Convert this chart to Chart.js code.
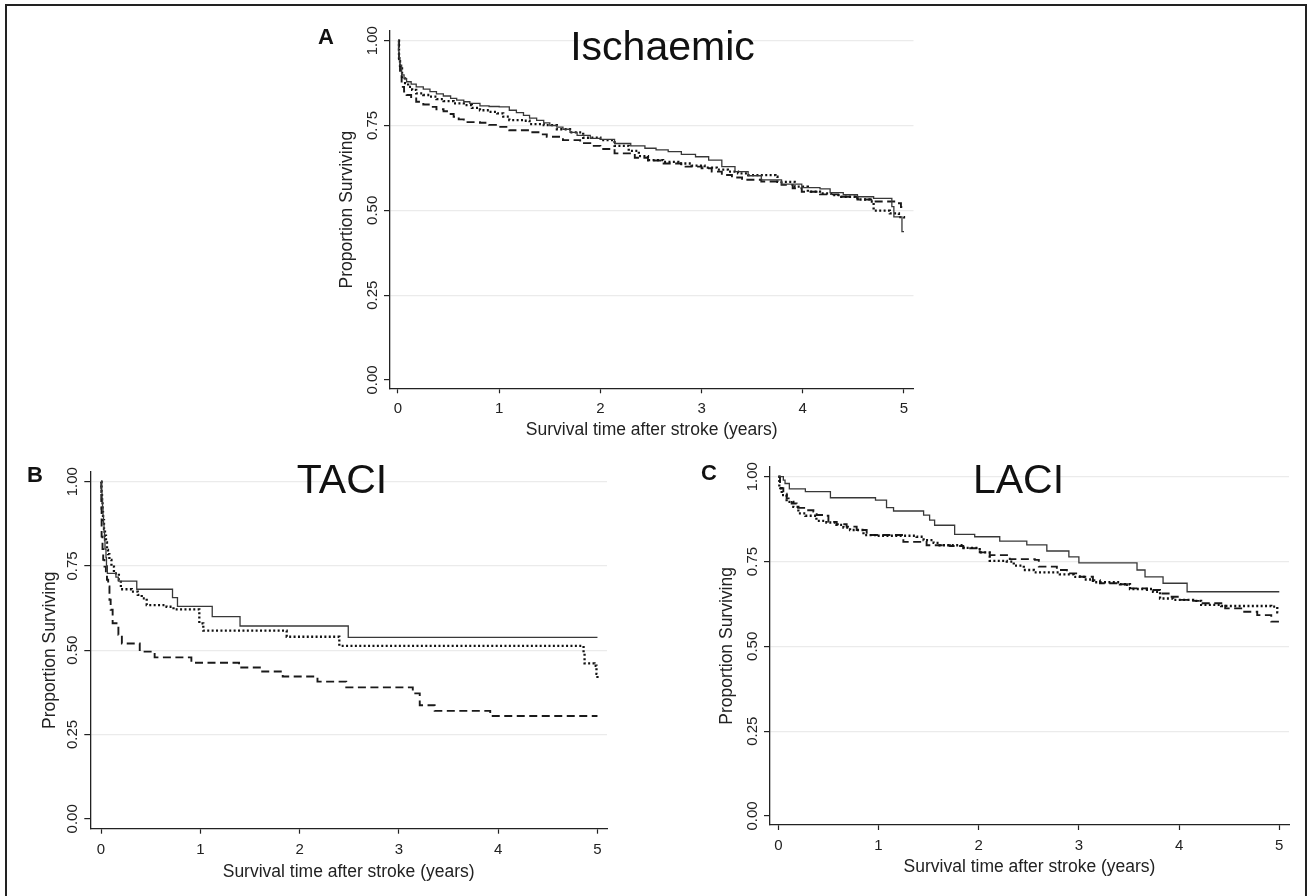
<!DOCTYPE html>
<html>
<head>
<meta charset="utf-8">
<script src="https://cdn.jsdelivr.net/npm/chart.js@4.4.1/dist/chart.umd.min.js"></script>
<style>
  html, body { margin: 0; padding: 0; background: #fff; width: 1308px; height: 896px; overflow: hidden; }
  #frame { position: absolute; left: 5px; top: 4px; width: 1302px; height: 900px; box-sizing: border-box;
           border-top: 2px solid #222; border-left: 2px solid #222; border-right: 2px solid #222; }
  .panel { position: absolute; }
</style>
</head>
<body>
<div id="frame"></div>
<div class="panel" style="left:310px;top:10px;width:620px;height:445px;"><canvas id="cA" width="620" height="445"></canvas></div>
<div class="panel" style="left:10px;top:455px;width:610px;height:436px;"><canvas id="cB" width="610" height="436"></canvas></div>
<div class="panel" style="left:690px;top:455px;width:610px;height:436px;"><canvas id="cC" width="610" height="436"></canvas></div>
<script>
// ---------- tick values / labels ----------
const xTicks = [0, 1, 2, 3, 4, 5];
const yTicks = [0, 0.25, 0.5, 0.75, 1];
const yTickLabels = ['0.00', '0.25', '0.50', '0.75', '1.00'];
const xTitle = 'Survival time after stroke (years)';
const yTitle = 'Proportion Surviving';
const panelTitles = ['Ischaemic', 'TACI', 'LACI'];
const panelLetters = ['A', 'B', 'C'];

// ---------- Kaplan-Meier step points [years, proportion surviving] ----------
// Panel A: Ischaemic
const ischSolid = [[0,1],[0.005,0.97],[0.01,0.95],[0.019,0.928],[0.036,0.899],[0.06,0.888],[0.085,0.879],[0.13,0.872],[0.18,0.864],[0.25,0.857],
  [0.316,0.85],[0.38,0.843],[0.448,0.837],[0.52,0.83],[0.58,0.825],[0.65,0.82],[0.71,0.815],[0.81,0.808],[0.9,0.806],[1.0,0.805],
  [1.1,0.795],[1.17,0.788],[1.24,0.78],[1.3,0.772],[1.37,0.765],[1.44,0.758],[1.5,0.75],[1.57,0.745],[1.63,0.739],[1.7,0.73],
  [1.77,0.721],[1.9,0.712],[2.0,0.709],[2.14,0.697],[2.3,0.69],[2.44,0.683],[2.55,0.678],[2.67,0.673],[2.8,0.665],[2.94,0.658],
  [3.07,0.648],[3.2,0.629],[3.33,0.614],[3.46,0.602],[3.59,0.59],[3.79,0.577],[3.99,0.567],[4.17,0.563],[4.27,0.552],[4.4,0.546],
  [4.54,0.54],[4.7,0.535],[4.88,0.511],[4.9,0.481],[4.98,0.437],[5.0,0.437]];
const ischDotted = [[0,1],[0.01,0.94],[0.02,0.918],[0.04,0.889],[0.07,0.875],[0.1,0.864],[0.14,0.855],[0.18,0.845],[0.25,0.84],[0.316,0.835],
  [0.38,0.828],[0.45,0.822],[0.55,0.815],[0.65,0.81],[0.73,0.802],[0.81,0.795],[0.9,0.79],[0.98,0.786],[1.04,0.776],[1.1,0.766],
  [1.24,0.764],[1.3,0.754],[1.44,0.751],[1.57,0.739],[1.7,0.73],[1.83,0.714],[2.0,0.707],[2.14,0.69],[2.28,0.675],[2.38,0.66],
  [2.47,0.648],[2.62,0.643],[2.77,0.638],[2.9,0.632],[3.03,0.626],[3.15,0.62],[3.26,0.614],[3.36,0.609],[3.46,0.604],[3.73,0.599],
  [3.75,0.584],[3.92,0.57],[4.05,0.555],[4.17,0.55],[4.28,0.545],[4.38,0.54],[4.54,0.532],[4.66,0.526],[4.7,0.499],[4.86,0.491],
  [4.95,0.48],[5.0,0.476]];
const ischDashed = [[0,1],[0.01,0.93],[0.02,0.899],[0.036,0.864],[0.06,0.85],[0.085,0.84],[0.13,0.83],[0.18,0.82],[0.25,0.812],[0.316,0.805],
  [0.38,0.798],[0.45,0.792],[0.5,0.784],[0.55,0.776],[0.6,0.768],[0.65,0.76],[0.81,0.758],[0.9,0.752],[0.98,0.746],[1.1,0.736],
  [1.3,0.73],[1.4,0.724],[1.47,0.717],[1.63,0.707],[1.8,0.698],[1.9,0.69],[2.0,0.681],[2.14,0.668],[2.34,0.655],[2.47,0.647],
  [2.6,0.638],[2.8,0.629],[3.0,0.624],[3.1,0.614],[3.2,0.604],[3.3,0.597],[3.4,0.59],[3.59,0.585],[3.79,0.575],[3.9,0.565],
  [3.99,0.555],[4.17,0.547],[4.35,0.54],[4.54,0.532],[4.7,0.526],[4.94,0.521],[4.97,0.51],[5.0,0.51]];

// Panel B: TACI
const taciSolid = [[0,1],[0.005,0.975],[0.01,0.95],[0.015,0.925],[0.02,0.9],[0.025,0.875],[0.03,0.85],[0.035,0.825],[0.04,0.8],[0.05,0.775],
  [0.055,0.75],[0.064,0.728],[0.15,0.717],[0.175,0.705],[0.36,0.681],[0.72,0.656],[0.77,0.63],[1.12,0.6],[1.4,0.572],[2.49,0.538],[5.0,0.538]];
const taciDotted = [[0,1],[0.005,0.97],[0.01,0.94],[0.015,0.91],[0.02,0.886],[0.03,0.86],[0.04,0.84],[0.05,0.82],[0.06,0.798],[0.07,0.785],
  [0.084,0.768],[0.105,0.748],[0.13,0.728],[0.18,0.709],[0.2,0.681],[0.31,0.674],[0.37,0.664],[0.41,0.654],[0.46,0.634],[0.66,0.629],
  [0.73,0.621],[0.99,0.58],[1.03,0.558],[1.87,0.54],[2.4,0.513],[4.86,0.49],[4.87,0.461],[4.97,0.454],[4.99,0.43],[5.0,0.411]];
const taciDashed = [[0,1],[0.003,0.92],[0.006,0.837],[0.015,0.8],[0.022,0.768],[0.035,0.748],[0.049,0.728],[0.06,0.709],[0.072,0.689],[0.085,0.65],
  [0.097,0.62],[0.117,0.58],[0.175,0.546],[0.21,0.52],[0.39,0.496],[0.54,0.479],[0.91,0.463],[1.39,0.449],[1.61,0.437],[1.83,0.422],
  [2.18,0.407],[2.47,0.39],[3.14,0.372],[3.21,0.337],[3.36,0.32],[3.92,0.305],[5.0,0.305]];

// Panel C: LACI
const laciSolid = [[0,1],[0.05,0.99],[0.067,0.98],[0.11,0.964],[0.27,0.956],[0.52,0.938],[0.97,0.931],[1.08,0.909],[1.15,0.899],[1.45,0.887],
  [1.51,0.872],[1.56,0.857],[1.76,0.83],[1.96,0.823],[2.21,0.81],[2.48,0.799],[2.68,0.781],[2.9,0.764],[3.0,0.746],[3.58,0.725],
  [3.66,0.705],[3.84,0.686],[4.08,0.661],[5.0,0.661]];
const laciDotted = [[0,1],[0.01,0.966],[0.034,0.946],[0.083,0.926],[0.15,0.911],[0.2,0.892],[0.27,0.885],[0.38,0.87],[0.48,0.865],[0.58,0.858],
  [0.65,0.85],[0.716,0.843],[0.85,0.828],[0.98,0.826],[1.38,0.823],[1.45,0.813],[1.55,0.805],[1.61,0.798],[1.85,0.79],[2.01,0.777],
  [2.11,0.752],[2.28,0.75],[2.35,0.738],[2.45,0.725],[2.55,0.718],[2.81,0.712],[2.95,0.705],[3.05,0.697],[3.14,0.689],[3.41,0.683],
  [3.51,0.669],[3.74,0.661],[3.81,0.641],[3.94,0.637],[4.14,0.634],[4.22,0.622],[4.42,0.619],[4.92,0.617],[4.98,0.6],[5.0,0.598]];
const laciDashed = [[0,1],[0.017,0.966],[0.05,0.95],[0.083,0.936],[0.133,0.921],[0.183,0.908],[0.283,0.901],[0.35,0.897],[0.383,0.887],[0.466,0.885],
  [0.5,0.867],[0.583,0.86],[0.682,0.853],[0.782,0.843],[0.882,0.828],[1.248,0.808],[1.48,0.798],[1.714,0.796],[1.846,0.789],[2.01,0.777],
  [2.11,0.769],[2.31,0.757],[2.56,0.755],[2.6,0.735],[2.78,0.725],[2.88,0.715],[3.01,0.705],[3.14,0.695],[3.21,0.686],[3.41,0.683],
  [3.48,0.671],[3.68,0.666],[3.81,0.656],[3.91,0.646],[4.01,0.637],[4.14,0.634],[4.22,0.627],[4.46,0.612],[4.62,0.602],[4.78,0.592],
  [4.92,0.573],[5.0,0.572]];

// ---------- rendering ----------
const FONT = '"Liberation Sans", Arial, Helvetica, sans-serif';
Chart.defaults.font.family = FONT;
Chart.defaults.color = '#222';

const lineStyles = {
  solid:  { borderColor: '#383838', borderWidth: 1.3, borderDash: [] },
  dotted: { borderColor: '#111111', borderWidth: 2.3, borderDash: [2, 2.4] },
  dashed: { borderColor: '#1a1a1a', borderWidth: 1.9, borderDash: [8, 4.5] }
};

const panelText = {
  id: 'panelText',
  afterDraw(chart, args, o) {
    const ctx = chart.ctx;
    ctx.save();
    ctx.fillStyle = '#111';
    ctx.textAlign = 'center';
    ctx.textBaseline = 'alphabetic';
    ctx.font = 'bold 22px ' + FONT;
    ctx.fillText(o.letter, o.lx, o.ly);
    ctx.font = '41px ' + FONT;
    ctx.fillText(o.title, o.tx, o.ty);
    ctx.restore();
  }
};

function toXY(arr) { return arr.map(p => ({ x: p[0], y: p[1] })); }

function makePanel(id, p) {
  const ds = [
    Object.assign({ label: 'solid',  data: toXY(p.solid)  }, lineStyles.solid),
    Object.assign({ label: 'dotted', data: toXY(p.dotted) }, lineStyles.dotted),
    Object.assign({ label: 'dashed', data: toXY(p.dashed) }, lineStyles.dashed)
  ].map(d => Object.assign(d, { stepped: 'before', pointRadius: 0, fill: false, tension: 0, borderCapStyle: 'butt' }));

  new Chart(document.getElementById(id), {
    type: 'line',
    data: { datasets: ds },
    plugins: [panelText],
    options: {
      responsive: false,
      animation: false,
      devicePixelRatio: 1,
      events: [],
      layout: { padding: p.pad },
      plugins: {
        legend: { display: false },
        tooltip: { enabled: false },
        panelText: p.text
      },
      scales: {
        x: {
          type: 'linear',
          min: p.xr[0], max: p.xr[1],
          afterBuildTicks: s => { s.ticks = xTicks.map(v => ({ value: v })); },
          afterFit: s => { s.height = p.xH; },
          grid: { drawOnChartArea: false, drawTicks: true, tickLength: 5, tickColor: '#222', tickWidth: 1.2 },
          border: { display: true, color: '#222', width: 1.3 },
          ticks: { font: { size: 15 }, color: '#222', padding: 7, maxRotation: 0, autoSkip: false,
                    callback: v => String(v) },
          title: { display: true, text: xTitle, font: { size: 17.5 }, color: '#222', padding: 0 }
        },
        y: {
          type: 'linear',
          min: p.yr[0], max: p.yr[1],
          afterBuildTicks: s => { s.ticks = yTicks.map(v => ({ value: v })); },
          afterFit: s => { s.width = p.yW; },
          grid: {
            drawOnChartArea: true, drawTicks: true, tickLength: 6, tickColor: '#222', tickWidth: 1.2,
            color: c => (c.tick && c.tick.value === 0) ? 'rgba(0,0,0,0)' : '#ebebeb', lineWidth: 1.2
          },
          border: { display: true, color: '#222', width: 1.3 },
          ticks: { font: { size: 15 }, color: '#222', padding: -3.1, minRotation: 90, maxRotation: 90,
                   crossAlign: 'center', autoSkip: false,
                   callback: v => yTickLabels[yTicks.indexOf(v)] },
          title: { display: true, text: yTitle, font: { size: 17.5 }, color: '#222', padding: 0 }
        }
      }
    }
  });
}

makePanel('cA', {
  solid: ischSolid, dotted: ischDotted, dashed: ischDashed,
  pad: { left: 26.5, top: 21, right: 16.5, bottom: 14.5 }, yW: 53.5, xH: 52.2,
  xr: [-0.079, 5.094], yr: [-0.0245, 1.0286],
  text: { letter: panelLetters[0], lx: 16, ly: 33.5, title: panelTitles[0], tx: 352.5, ty: 50 }
});
makePanel('cB', {
  solid: taciSolid, dotted: taciDotted, dashed: taciDashed,
  pad: { left: 29.7, top: 16.7, right: 13, bottom: 8.8 }, yW: 50.6, xH: 53.5,
  xr: [-0.108, 5.096], yr: [-0.0294, 1.0297],
  text: { letter: panelLetters[1], lx: 25, ly: 26.7, title: panelTitles[1], tx: 332, ty: 38.3 }
});
makePanel('cC', {
  solid: laciSolid, dotted: laciDotted, dashed: laciDashed,
  pad: { left: 26.9, top: 11.7, right: 11, bottom: 13.8 }, yW: 53.1, xH: 52.2,
  xr: [-0.083, 5.097], yr: [-0.0265, 1.0295],
  text: { letter: panelLetters[2], lx: 19, ly: 25, title: panelTitles[2], tx: 328.5, ty: 38.3 }
});
</script>
</body>
</html>
